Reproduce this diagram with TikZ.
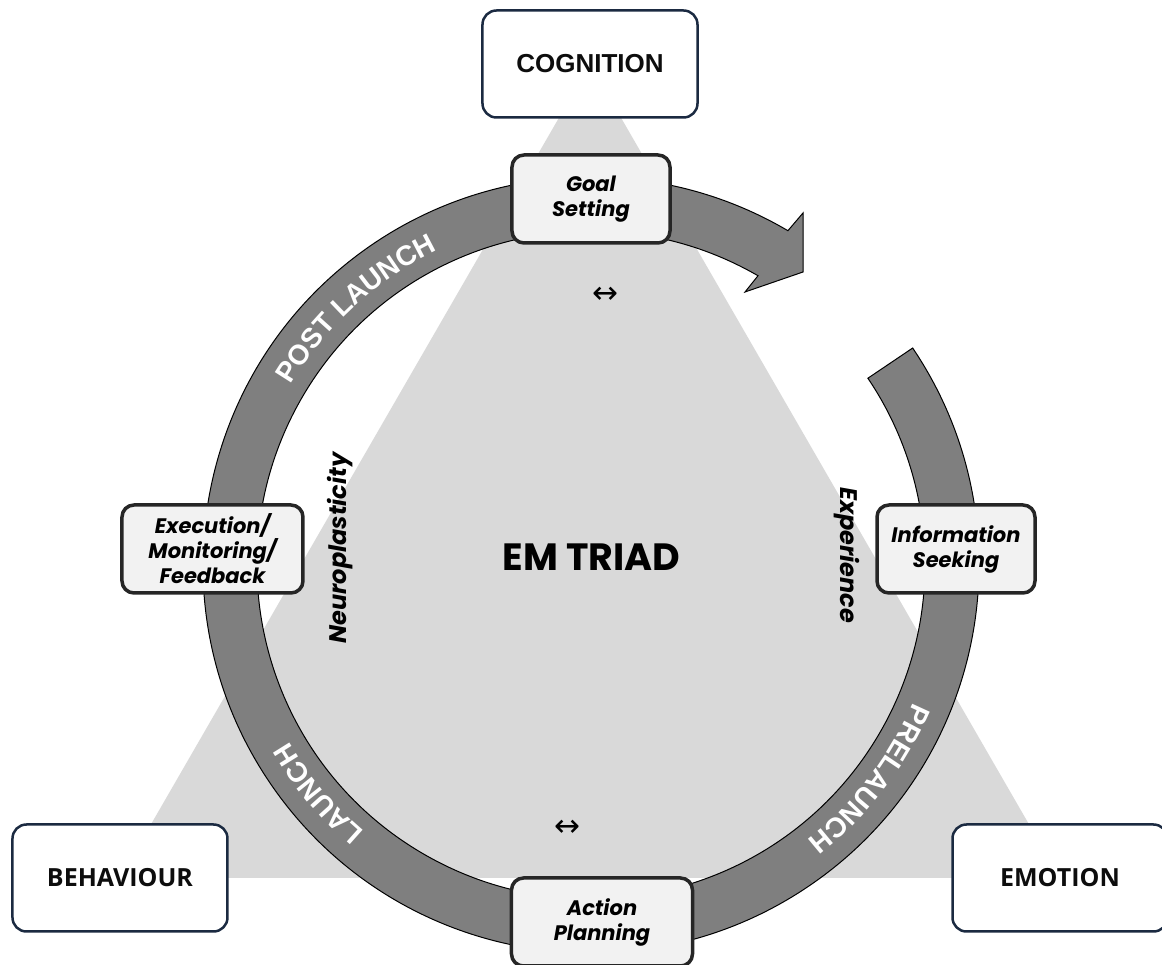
\documentclass[tikz,border=0pt]{standalone}
\usepackage{fontspec}
\setmainfont{Liberation Sans}
\newfontfamily\popfont{Poppins}
\newfontfamily\openfont{Open Sans}
\newfontfamily\arrowfont{DejaVu Sans}
\usetikzlibrary{decorations.text}

\definecolor{triagray}{HTML}{D9D9D9}
\definecolor{ringgray}{HTML}{7F7F7F}
\definecolor{stagefill}{HTML}{F2F2F2}
\definecolor{stageline}{HTML}{262626}
\definecolor{navyline}{HTML}{1B2A41}

\tikzset{
  corner/.style={draw=navyline, line width=2.5pt, fill=white, rounded corners=14pt,
    minimum width=215pt, minimum height=107pt, text=black!95},
  stage/.style={draw=stageline, line width=3.5pt, fill=stagefill, rounded corners=12pt,
    minimum height=88pt, inner sep=2pt, align=center,
    font=\popfont\fontsize{21}{25}\selectfont\bfseries\itshape},
  sidetext/.style={font=\popfont\fontsize{24}{28}\selectfont\bfseries\itshape},
  both/.style={font=\arrowfont\fontsize{31}{34}\selectfont},
  ringtext/.style={decorate, decoration={text along path, text align=center,
    text color=white, text={|\fontsize{28}{32}\selectfont\bfseries|#1}}},
}

\begin{document}
\begin{tikzpicture}[x=1pt,y=1pt]
  \useasboundingbox (-591,-400) rectangle (571,565);

  % triangle corners
  \coordinate (cog) at (-1,501);
  \coordinate (beh) at (-471,-313);
  \coordinate (emo) at (469,-313);
  \fill[triagray] (cog) -- (beh) -- (emo) -- cycle;

  % ring with arrow head
  \draw[fill=ringgray, line width=1pt]
    (34:388) arc[start angle=34, end angle=-300.5, radius=388]
    -- (212,352) -- (212,293) -- (154,273) -- (-300:334)
    arc[start angle=-300, end angle=34, radius=334] -- cycle;

  % phases on the ring
  \path[ringtext=POST LAUNCH] (170:350) arc[start angle=170, end angle=95, radius=350];
  \path[ringtext=LAUNCH] (250:350) arc[start angle=250, end angle=190, radius=350];
  \path[ringtext=PRELAUNCH] (-5:350) arc[start angle=-5, end angle=-70, radius=350];

  % inside of the ring
  \node[font=\popfont\fontsize{38}{44}\selectfont\bfseries] (triad) at (0.5,8) {EM TRIAD};
  \node[sidetext, rotate=90] (neuro) at (-251,17) {Neuroplasticity};
  \node[sidetext, rotate=-90] (exper) at (256,10) {Experience};
  \node[both] (arrtop) at (14,270) {↔};
  \node[both] (arrbot) at (-24,-263) {↔};

  % stages
  \node[stage, minimum width=158pt] (goal) at (0,366) {Goal\\Setting};
  \node[stage, minimum width=158pt] (info) at (365,16) {Information\\Seeking};
  \node[stage, minimum width=181pt] (exec) at (-378.5,16) {Execution/\\Monitoring/\\Feedback};
  \node[stage, minimum width=181pt] (plan) at (11,-357) {Action\\Planning};

  % triad corners
  \node[corner, font=\fontsize{26}{30}\selectfont\bfseries] (cogbox) at (cog) {COGNITION};
  \node[corner, font=\openfont\fontsize{25}{30}\selectfont\bfseries] (behbox) at (beh) {BEHAVIOUR};
  \node[corner, font=\openfont\fontsize{25}{30}\selectfont\bfseries] (emobox) at (emo) {EMOTION};

\end{tikzpicture}
\end{document}
